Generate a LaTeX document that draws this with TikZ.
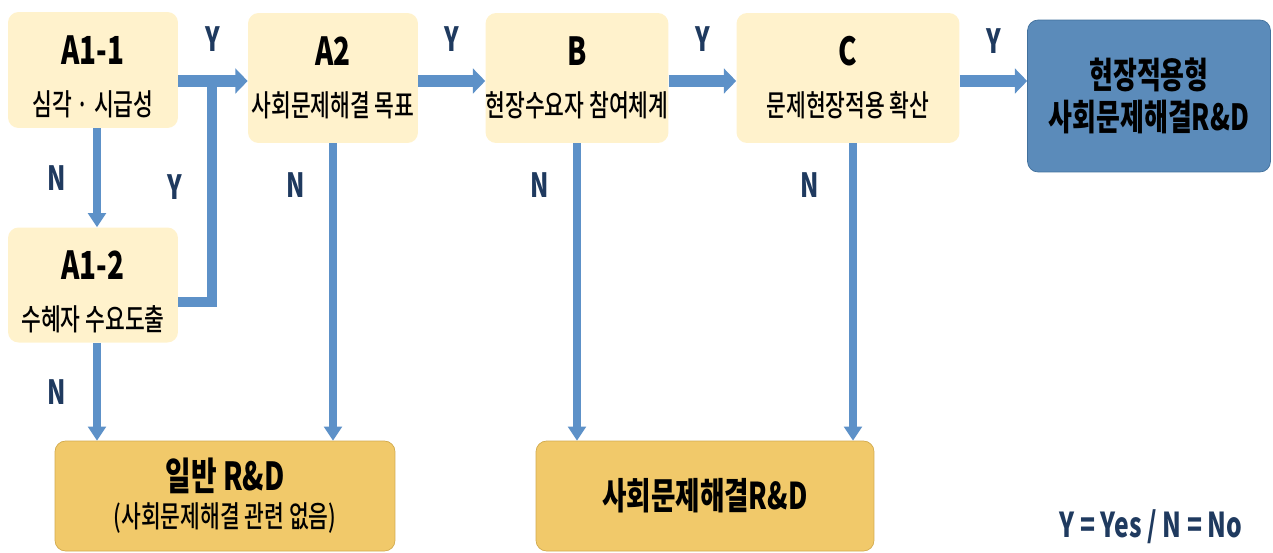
\documentclass[tikz,border=0pt]{standalone}
\usepackage{fontspec}
\setmainfont{Noto Sans CJK KR}[FakeStretch=0.72]
\newfontfamily\medfont{Noto Sans CJK KR Medium}[FakeStretch=0.72]
\usetikzlibrary{arrows.meta}

\definecolor{boxyellow}{HTML}{FFF2CC}
\definecolor{boxgold}{HTML}{F1C96A}
\definecolor{goldline}{HTML}{D2AB4E}
\definecolor{boxblue}{HTML}{5B8BBA}
\definecolor{blueline}{HTML}{41709C}
\definecolor{flowblue}{HTML}{5D91C8}
\definecolor{labelnavy}{HTML}{1F3A5F}

\newcommand{\boxtitle}{\fontsize{22}{26}\selectfont\bfseries}
\newcommand{\boxsub}{\fontsize{17}{20}\selectfont\medfont}

\begin{document}
\begin{tikzpicture}[x=0.02cm, y=-0.02cm]
        \useasboundingbox (0,0) rectangle (1273,552);

        \begin{scope}[every node/.style={rounded corners=6pt, align=center, inner sep=0pt, font=\boxsub}]
                \node [fill=boxyellow, minimum width=3.4cm, minimum height=2.32cm] (A11) at (93,70) {{\boxtitle\rule{0pt}{24pt}A1-1}\\[9pt]심각 · 시급성};
                \node [fill=boxyellow, minimum width=3.4cm, minimum height=2.6cm] (A2) at (333,78) {{\boxtitle A2}\\[9pt]사회문제해결 목표};
                \node [fill=boxyellow, minimum width=3.6cm, minimum height=2.6cm] (B) at (577,78) {{\boxtitle B}\\[9pt]현장수요자 참여체계};
                \node [fill=boxyellow, minimum width=4.46cm, minimum height=2.6cm] (C) at (848,78) {{\boxtitle C}\\[9pt]문제현장적용 확산};
                \node [fill=boxblue, draw=blueline, minimum width=4.86cm, minimum height=3.04cm, font=\fontsize{20.5}{24}\selectfont\bfseries] (R) at (1149,96) {현장적용형\\사회문제해결R\&D};
                \node [fill=boxyellow, minimum width=3.4cm, minimum height=2.3cm] (A12) at (93,285) {{\boxtitle\rule{0pt}{24pt}A1-2}\\[9pt]수혜자 수요도출};
                \node [fill=boxgold, draw=goldline, minimum width=6.8cm, minimum height=2.2cm] (G) at (225,496) {{\boxtitle 일반 R\&D}\\[1pt](사회문제해결 관련 없음)};
                \node [fill=boxgold, draw=goldline, minimum width=6.76cm, minimum height=2.2cm, font=\fontsize{21}{24}\selectfont\bfseries] (S) at (705,496) {사회문제해결R\&D};
        \end{scope}

        \begin{scope}[every node/.style={text=labelnavy, font=\fontsize{19}{22}\selectfont\bfseries},
                      hflow/.style={flowblue, line width=6.5pt, -{Triangle[width=14pt,length=7pt]}},
                      vflow/.style={flowblue, line width=5pt, -{Triangle[width=10pt,length=8pt]}}]
                \coordinate (J) at (212,81);
                \draw [flowblue, line width=5.5pt] ([yshift=-0.34cm]A12.east) -| node [pos=0.76, xshift=-0.74cm] {Y} (J);
                \draw [hflow] (A11.east |- J) -- node [yshift=0.84cm] {Y} (A2.west |- J);
                \draw [hflow] (A2.east |- J) -- node [yshift=0.84cm] {Y} (B.west |- J);
                \draw [hflow] (B.east |- J) -- node [yshift=0.84cm] {Y} (C.west |- J);
                \draw [hflow] (C.east |- J) -- node [yshift=0.8cm] {Y} (R.west |- J);

                \draw [vflow] ([xshift=0.08cm]A11.south) -- node [xshift=-0.8cm] {N} ([xshift=0.08cm]A12.north);
                \draw [vflow] ([xshift=0.08cm]A12.south) -- node [xshift=-0.8cm] {N} ([xshift=0.08cm]A12.south |- G.north);
                \draw [vflow] (A2.south) -- node [pos=0.14, xshift=-0.74cm] {N} (A2.south |- G.north);
                \draw [vflow] (B.south) -- node [pos=0.14, xshift=-0.74cm] {N} (B.south |- S.north);
                \draw [vflow] ([xshift=0.1cm]C.south) -- node [pos=0.14, xshift=-0.86cm] {N} ([xshift=0.1cm]C.south |- S.north);

                \node [font=\fontsize{19.5}{24}\selectfont\bfseries] (key) at (1151,527) {Y\,=\,Yes\,/\,N\,=\,No};
        \end{scope}
\end{tikzpicture}
\end{document}
